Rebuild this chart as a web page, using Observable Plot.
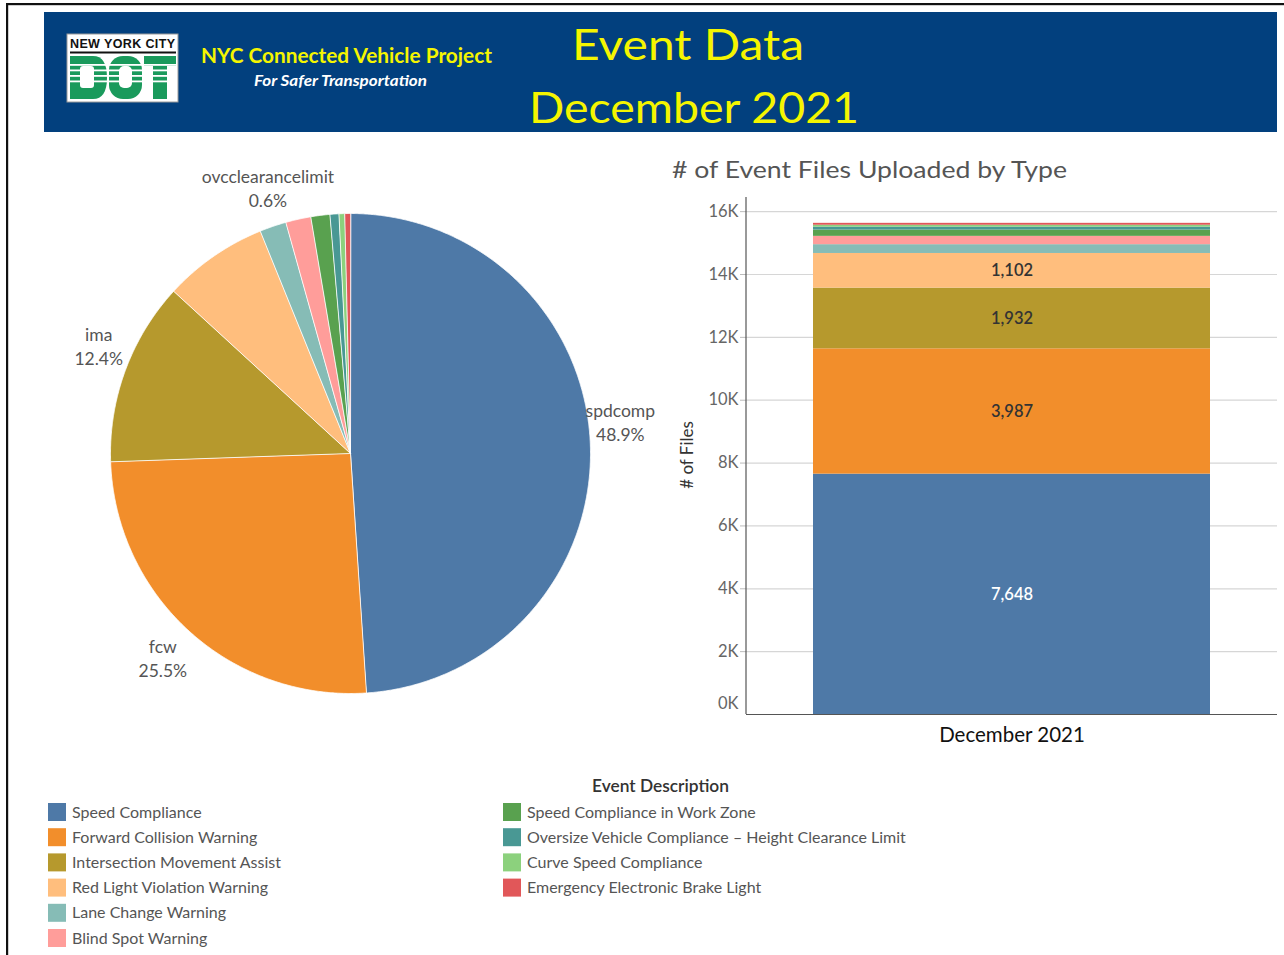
<!DOCTYPE html>
<html>
<head>
<meta charset="utf-8">
<script src="https://cdn.jsdelivr.net/npm/d3@7"></script>
<script src="https://cdn.jsdelivr.net/npm/@observablehq/plot@0.6"></script>
<style>
  html, body { margin: 0; padding: 0; background: #fff; }
  #page { position: relative; width: 1284px; height: 955px; overflow: hidden; font-family: Lato, "Open Sans", sans-serif; }
  #page > * { position: absolute; }
  svg { overflow: visible; }
</style>
</head>
<body>
<div id="page"></div>
<script>
// ---------------- data ----------------
const month = "December 2021";
const categories = [
  "Speed Compliance",
  "Forward Collision Warning",
  "Intersection Movement Assist",
  "Red Light Violation Warning",
  "Lane Change Warning",
  "Blind Spot Warning",
  "Speed Compliance in Work Zone",
  "Oversize Vehicle Compliance – Height Clearance Limit",
  "Curve Speed Compliance",
  "Emergency Electronic Brake Light"
];
const codes = ["spdcomp", "fcw", "ima", "rlvw", "lcw", "bsw", "spdcompwz", "ovcclearancelimit", "curvespeedcomp", "eebl"];
const counts = [7648, 3987, 1932, 1102, 280, 265, 200, 94, 60, 60];
const colors = ["#4e79a7", "#f28e2b", "#b6992d", "#ffbe7d", "#86bcb6", "#ff9d9a", "#59a14f", "#499894", "#8cd17d", "#e15759"];
const yTicks = [0, 2000, 4000, 6000, 8000, 10000, 12000, 14000, 16000];
const pieLabelCodes = ["spdcomp", "fcw", "ima", "ovcclearancelimit"];
const legendTitle = "Event Description";
const barTitle = "# of Event Files Uploaded by Type";
const yLabel = "# of Files";

// ---------------- derived table ----------------
const rows = categories.map((c, i) => ({category: c, code: codes[i], count: counts[i], month}));
const total = d3.sum(counts);
const FONT = "Lato, 'Open Sans', sans-serif";
const page = document.getElementById("page");
const NS = "http://www.w3.org/2000/svg";

// ---------------- pie (Plot) ----------------
const arcs = d3.pie().sort(null).value(d => d.count)(rows);
const slicePts = [];
arcs.forEach(a => {
  slicePts.push({code: a.data.code, x: 0, y: 0});
  const n = Math.max(2, Math.ceil((a.endAngle - a.startAngle) / 0.005));
  for (let k = 0; k <= n; k++) {
    const t = a.startAngle + (a.endAngle - a.startAngle) * k / n;
    slicePts.push({code: a.data.code, x: Math.sin(t), y: Math.cos(t)});
  }
});
const LR = 1.154;
const pieLabels = arcs.filter(a => pieLabelCodes.includes(a.data.code)).map(a => {
  const m = (a.startAngle + a.endAngle) / 2;
  return {code: a.data.code, x: LR * Math.sin(m), y: LR * Math.cos(m),
          text: a.data.code + "\n" + (a.data.count / total * 100).toFixed(1) + "%"};
});
const pieR = 320 / 240;
const labelStyle = {x: "x", y: "y", text: "text", fill: "#555", fontSize: 17.5, lineHeight: 1.37};
const pie = Plot.plot({
  width: 640, height: 640, margin: 0,
  x: {domain: [-pieR, pieR], axis: null},
  y: {domain: [-pieR, pieR], axis: null},
  color: {domain: codes, range: colors},
  style: {fontFamily: FONT, background: "transparent", overflow: "visible"},
  marks: [
    Plot.line(slicePts, {x: "x", y: "y", z: "code", fill: "code", stroke: "white", strokeWidth: 0.8, curve: "linear-closed"}),
    Plot.text(pieLabels.filter(d => d.code === "spdcomp"), {...labelStyle, dx: -7, dy: -23}),
    Plot.text(pieLabels.filter(d => d.code === "fcw"), {...labelStyle, dx: -2, dy: -2}),
    Plot.text(pieLabels.filter(d => d.code === "ima"), {...labelStyle, dx: 8, dy: -12}),
    Plot.text(pieLabels.filter(d => d.code === "ovcclearancelimit"), {...labelStyle, dx: -64, dy: 10})
  ]
});
pie.style.left = "30px";
pie.style.top = "133px";
page.appendChild(pie);

// ---------------- stacked bar (Plot) ----------------
const leftAxisLine = (index, scales, values, dim) => {
  const l = document.createElementNS(NS, "line");
  l.setAttribute("x1", dim.marginLeft); l.setAttribute("x2", dim.marginLeft);
  l.setAttribute("y1", dim.marginTop); l.setAttribute("y2", dim.height - dim.marginBottom);
  l.setAttribute("stroke", "#555"); l.setAttribute("stroke-width", 1.2);
  return l;
};
const tickFmt = d => d / 1000 + "K";
const bar = Plot.plot({
  width: 634, height: 610,
  marginLeft: 96, marginRight: 7, marginTop: 47, marginBottom: 46,
  x: {domain: [month], padding: 0.144, label: null},
  y: {domain: [0, 16450], label: null},
  color: {domain: categories, range: colors},
  style: {fontFamily: FONT, background: "transparent", overflow: "visible"},
  marks: [
    Plot.gridY(yTicks, {stroke: "#d6d6d6", strokeOpacity: 1, strokeWidth: 1.2}),
    Plot.barY(rows, {x: "month", y: "count", fill: "category"}),
    Plot.text(rows, Plot.filter(d => d.code === "spdcomp",
      Plot.stackY({x: "month", y: "count", text: d => d3.format(",")(d.count), fill: "white", fontSize: 16.5, fontWeight: 600}))),
    Plot.text(rows, Plot.filter(d => d.count >= 1000 && d.code !== "spdcomp",
      Plot.stackY({x: "month", y: "count", text: d => d3.format(",")(d.count), fill: "#333", fontSize: 16.5, fontWeight: 600}))),
    Plot.axisY(yTicks.filter(t => t > 0), {tickFormat: tickFmt, tickSize: 6, tickPadding: 2, fontSize: 16.5, stroke: "#bbb", fill: "#666", label: null}),
    Plot.axisY(yTicks.filter(t => t === 0), {tickFormat: tickFmt, tickSize: 0, tickPadding: 8, dy: -11, fontSize: 16.5, fill: "#666", label: null}),
    Plot.axisX({tickSize: 0, tickPadding: 13, fontSize: 20.5, fill: "#111", label: null}),
    Plot.ruleY([0], {stroke: "#555", strokeWidth: 1.2}),
    leftAxisLine
  ]
});
bar.style.left = "650px";
bar.style.top = "150px";
page.appendChild(bar);

// ---------------- overlay: header, titles, legend ----------------
const ov = document.createElementNS(NS, "svg");
ov.setAttribute("width", 1284); ov.setAttribute("height", 955);
ov.style.left = "0px"; ov.style.top = "0px";
ov.style.fontFamily = FONT;
function el(tag, attrs, text) {
  const e = document.createElementNS(NS, tag);
  for (const k in attrs) e.setAttribute(k, attrs[k]);
  if (text !== undefined) e.textContent = text;
  ov.appendChild(e);
  return e;
}
// frame lines
el("rect", {x: 6, y: 3, width: 1278, height: 2.2, fill: "#111"});
el("rect", {x: 6, y: 3, width: 2.2, height: 952, fill: "#111"});
// header band
el("rect", {x: 44, y: 12, width: 1233, height: 120, fill: "#02407e"});
// logo
el("rect", {x: 67, y: 34, width: 111, height: 68, fill: "#fff", stroke: "#9a9a9a", "stroke-width": 1});
el("text", {x: 70, y: 48, "font-size": 12.5, "font-weight": 700, fill: "#111", textLength: 105, lengthAdjust: "spacing", "font-family": "'Liberation Sans', Arial, sans-serif"}, "NEW YORK CITY");
el("rect", {x: 70, y: 51.5, width: 106, height: 2, fill: "#111"});
el("path", {d: "M70,56 H93 Q107,56 107,77.5 Q107,99 93,99 H70 Z", fill: "#1a9a5c"});
el("rect", {x: 109, y: 56, width: 33, height: 43, rx: 14, ry: 14, fill: "#1a9a5c"});
el("rect", {x: 144, y: 56, width: 32, height: 10, fill: "#1a9a5c"});
el("rect", {x: 153, y: 56, width: 14, height: 43, fill: "#1a9a5c"});
[64, 69.5, 75, 80.5].forEach(yy => el("rect", {x: 70, y: yy, width: 106, height: 1.8, fill: "#fff"}));
el("rect", {x: 80, y: 66, width: 14, height: 22, rx: 3, fill: "#fff"});
el("rect", {x: 119, y: 66, width: 13, height: 22, rx: 5, fill: "#fff"});
// header texts
el("text", {x: 201, y: 63, "font-size": 21, "font-weight": 700, fill: "#f5f500", textLength: 291, lengthAdjust: "spacingAndGlyphs"}, "NYC Connected Vehicle Project");
el("text", {x: 254, y: 86, "font-size": 15.5, "font-weight": 700, "font-style": "italic", fill: "#fff", textLength: 173, lengthAdjust: "spacingAndGlyphs"}, "For Safer Transportation");
el("text", {x: 572, y: 59.5, "font-size": 43, fill: "#f5f500", textLength: 232, lengthAdjust: "spacingAndGlyphs"}, "Event Data");
el("text", {x: 529, y: 123, "font-size": 43, fill: "#f5f500", textLength: 330, lengthAdjust: "spacingAndGlyphs"}, "December 2021");
// bar chart title & y label
el("text", {x: 672, y: 178, "font-size": 24, fill: "#555", textLength: 395, lengthAdjust: "spacingAndGlyphs"}, barTitle);
el("text", {x: 0, y: 0, "font-size": 17, fill: "#333", "text-anchor": "middle", transform: "translate(693,455) rotate(-90)"}, yLabel);
// legend
el("text", {x: 592, y: 792, "font-size": 16.5, "font-weight": 600, fill: "#333", textLength: 137, lengthAdjust: "spacingAndGlyphs"}, legendTitle);
const legX = [48, 503];
rows.forEach((r, i) => {
  const col = i < 6 ? 0 : 1;
  const row = i < 6 ? i : i - 6;
  const cy = 812 + row * 25.2;
  el("rect", {x: legX[col], y: cy - 9, width: 18, height: 18, fill: colors[i]});
  el("text", {x: legX[col] + 24, y: cy + 5.5, "font-size": 16, fill: "#555"}, r.category);
});
page.appendChild(ov);
</script>
</body>
</html>
